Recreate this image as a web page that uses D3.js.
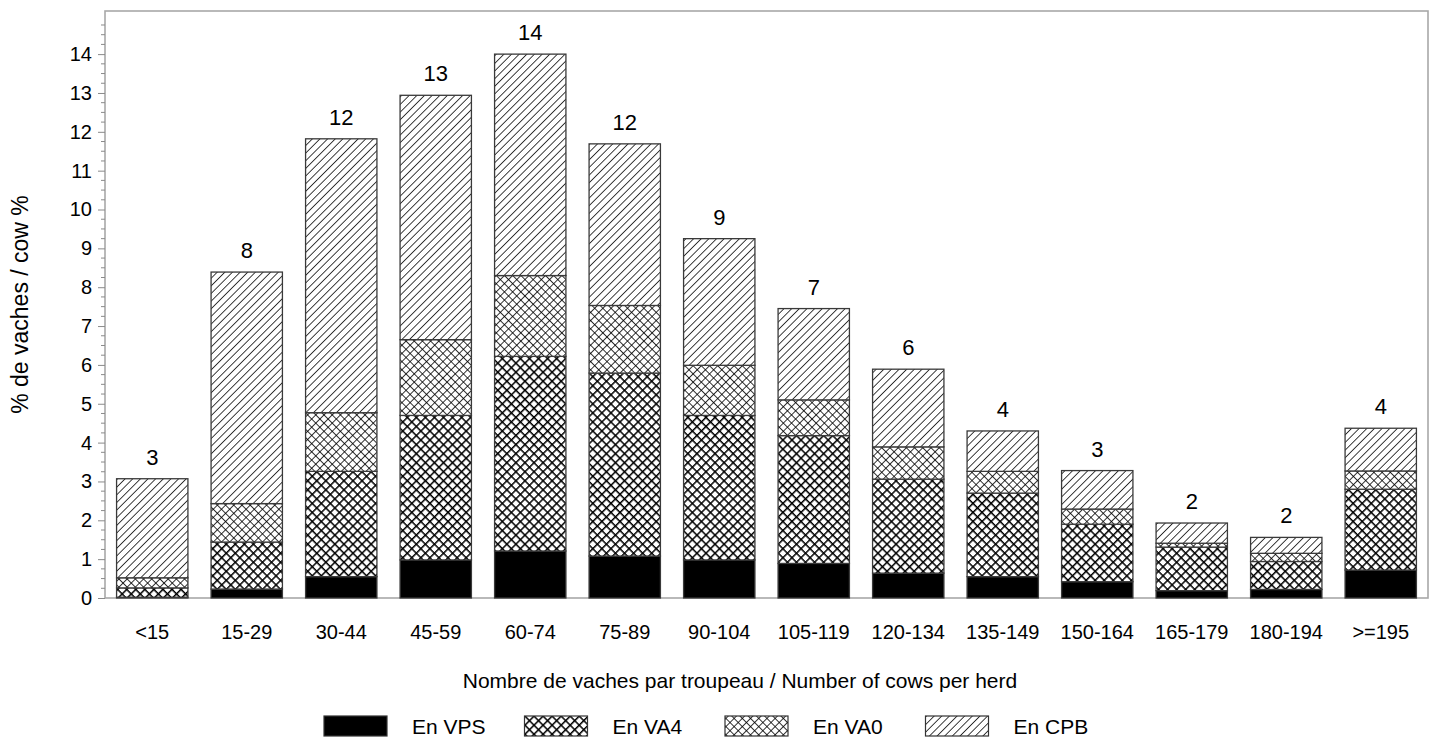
<!DOCTYPE html>
<html>
<head>
<meta charset="utf-8">
<script src="https://cdn.jsdelivr.net/npm/d3@7"></script>
<style>
  html, body { margin: 0; padding: 0; background: #fff; }
  svg text { font-family: "Liberation Sans", Arial, sans-serif; fill: #000; }
</style>
</head>
<body>
<svg id="chart" width="1437" height="743"></svg>
<script>
// ---- data ----
const categories = ["<15","15-29","30-44","45-59","60-74","75-89","90-104","105-119","120-134","135-149","150-164","165-179","180-194",">=195"];
const seriesNames = ["En VPS","En VA4","En VA0","En CPB"];
const vps = [0.02, 0.23, 0.55, 0.98, 1.21, 1.08, 0.98, 0.89, 0.64, 0.55, 0.42, 0.19, 0.22, 0.72];
const va4 = [0.24, 1.21, 2.71, 3.72, 5.01, 4.71, 3.72, 3.29, 2.42, 2.15, 1.48, 1.12, 0.72, 2.08];
const va0 = [0.26, 0.99, 1.51, 1.95, 2.08, 1.74, 1.29, 0.92, 0.83, 0.56, 0.39, 0.10, 0.21, 0.47];
const cpb = [2.55, 5.96, 7.05, 6.29, 5.70, 4.16, 3.26, 2.35, 2.00, 1.04, 0.99, 0.52, 0.41, 1.10];
const yTicks = [0,1,2,3,4,5,6,7,8,9,10,11,12,13,14];
const yMax = 15.11;
const xTitle = "Nombre de vaches par troupeau / Number of cows per herd";
const yTitle = "% de vaches / cow %";

// ---- layout ----
const svg = d3.select("#chart");
const L = 105, R = 1428, T = 11, B = 598;

const x = d3.scaleBand().domain(categories).range([L, R]).paddingInner(0.245).paddingOuter(0.1225);
const y = d3.scaleLinear().domain([0, yMax]).range([B, T]);

// ---- patterns ----
const defs = svg.append("defs");
function hatch(id, w, sw, cross) {
  const p = defs.append("pattern").attr("id", id).attr("patternUnits", "userSpaceOnUse")
    .attr("width", w).attr("height", w).attr("patternTransform", "rotate(45)");
  p.append("rect").attr("width", w).attr("height", w).attr("fill", "#fff");
  p.append("line").attr("x1", 0).attr("y1", 0).attr("x2", 0).attr("y2", w)
    .attr("stroke", "#000").attr("stroke-width", sw);
  if (cross) p.append("line").attr("x1", 0).attr("y1", 0).attr("x2", w).attr("y2", 0)
    .attr("stroke", "#000").attr("stroke-width", sw);
}
hatch("pVA4", 6.4, 3.0, true);
hatch("pVA0", 5.8, 1.6, true);
hatch("pCPB", 5.4, 1.5, false);
const fills = ["#000", "url(#pVA4)", "url(#pVA0)", "url(#pCPB)"];

// ---- stack ----
const rows = categories.map((c, i) => ({cat: c, "En VPS": vps[i], "En VA4": va4[i], "En VA0": va0[i], "En CPB": cpb[i]}));
const stacked = d3.stack().keys(seriesNames)(rows);

// frame
svg.append("rect").attr("x", L).attr("y", T).attr("width", R - L).attr("height", B - T)
  .attr("fill", "none").attr("stroke", "#a8a8a8").attr("stroke-width", 1.6);

// bars
stacked.forEach((s, si) => {
  svg.append("g").selectAll("rect").data(s).join("rect")
    .attr("x", d => x(d.data.cat))
    .attr("width", x.bandwidth())
    .attr("y", d => y(d[1]))
    .attr("height", d => y(d[0]) - y(d[1]))
    .attr("fill", fills[si])
    .attr("stroke", "#3a3a3a").attr("stroke-width", 1.3);
});

// totals
const totals = rows.map((r, i) => vps[i] + va4[i] + va0[i] + cpb[i]);
svg.append("g").selectAll("text").data(categories).join("text")
  .attr("x", d => x(d) + x.bandwidth() / 2)
  .attr("y", (d, i) => y(totals[i]) - 14)
  .attr("text-anchor", "middle").attr("font-size", 22)
  .text((d, i) => Math.round(totals[i]));

// y axis
const yAxis = d3.axisLeft(y).tickValues(yTicks).tickSize(7).tickPadding(6).tickFormat(d3.format("d"));
const gy = svg.append("g").attr("transform", `translate(${L},0)`).call(yAxis);
gy.select(".domain").remove();
gy.selectAll("line").attr("stroke", "#8a8a8a");
gy.selectAll("text").attr("font-size", 20).attr("font-family", "Liberation Sans, Arial, sans-serif");
const minor = d3.range(0, 15.01, 0.25).filter(v => Math.abs(v - Math.round(v)) > 1e-6);
svg.append("g").selectAll("line").data(minor).join("line")
  .attr("x1", L - 4).attr("x2", L).attr("y1", d => y(d)).attr("y2", d => y(d))
  .attr("stroke", "#8a8a8a");

// x axis
const xAxis = d3.axisBottom(x).tickSize(0).tickPadding(27);
const gx = svg.append("g").attr("transform", `translate(0,${B})`).call(xAxis);
gx.select(".domain").remove();
gx.selectAll("text").attr("font-size", 20).attr("font-family", "Liberation Sans, Arial, sans-serif");

// axis titles
svg.append("text").attr("x", 740).attr("y", 688).attr("text-anchor", "middle")
  .attr("font-size", 21).text(xTitle);
svg.append("text").attr("transform", `translate(28,${(T + B) / 2}) rotate(-90)`)
  .attr("text-anchor", "middle").attr("font-size", 23).text(yTitle);

// legend
const lg = svg.append("g");
seriesNames.forEach((n, i) => {
  const sx = 324 + i * 200.5;
  lg.append("rect").attr("x", sx).attr("y", 716).attr("width", 63).attr("height", 20)
    .attr("fill", fills[i]).attr("stroke", "#333").attr("stroke-width", 1.2);
  lg.append("text").attr("x", sx + 88).attr("y", 734).attr("font-size", 21).text(n);
});
</script>
</body>
</html>
